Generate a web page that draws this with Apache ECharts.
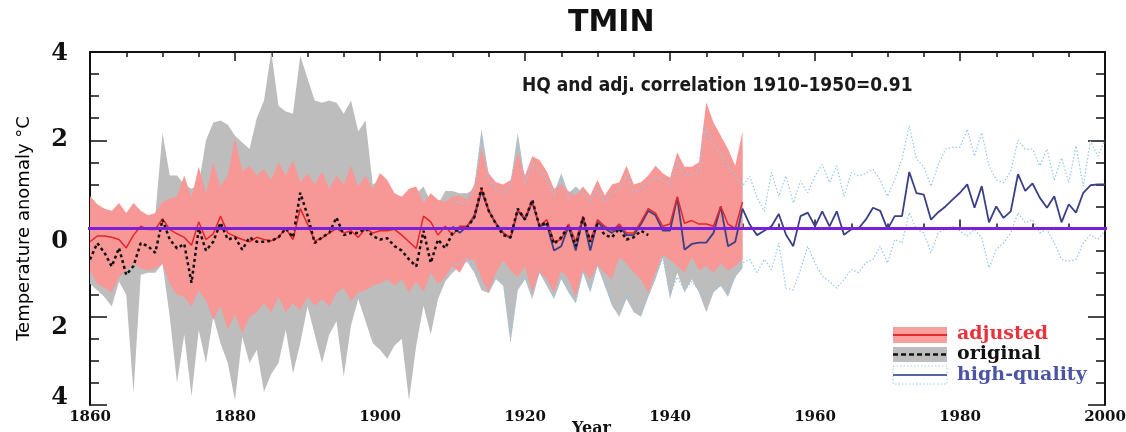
<!DOCTYPE html>
<html><head><meta charset="utf-8">
<script src="https://cdn.jsdelivr.net/npm/echarts@6/dist/echarts.min.js"></script>
<style>html,body{margin:0;padding:0;background:#fff}#c{width:1126px;height:432px}</style>
</head><body><div id="c"></div>
<script>
// ---------------- DATA ----------------
const FIRST_YEAR = 1860, LAST_YEAR = 2000;
const ADJ_START = 1860;   // adjusted & original bands 1860-1950
const ORIG_START = 1860;  // original mean 1860-1937
const HQ_START = 1910;    // high-quality 1910-2000

const xTickLabels = ['1860','1880','1900','1920','1940','1960','1980','2000'];
const yTickLabels = ['4','2','0','2','4'];

// adjusted mean (red line)
const adjMean = [
 -0.30,-0.17,-0.17,-0.20,-0.25,-0.44,-0.15, 0.05,-0.02,-0.02,
  0.22,-0.02,-0.12,-0.20,-0.38, 0.15,-0.25,-0.12, 0.28,-0.10,
 -0.18,-0.25,-0.30,-0.20,-0.25,-0.28,-0.20, 0.00,-0.25, 0.45,
  0.10,-0.28,-0.22,-0.10, 0.00,-0.10,-0.05,-0.20, 0.00,-0.10,
 -0.05,-0.05,-0.02,-0.15,-0.30,-0.45, 0.28, 0.15,-0.15, 0.05,
 -0.15, 0.05, 0.05, 0.30, 0.90, 0.40, 0.10,-0.10,-0.20, 0.42,
  0.25, 0.62, 0.05, 0.20,-0.30,-0.25, 0.10,-0.30, 0.28,-0.30,
  0.20, 0.05,-0.05, 0.10,-0.10,-0.10, 0.15, 0.45, 0.35, 0.05,
  0.10, 0.72, 0.12, 0.18, 0.10, 0.10, 0.05, 0.50, 0.10, 0.00,
  0.60];
// adjusted band low / high (red area)
const adjLow = [
 -0.95,-1.25,-1.35,-1.45,-1.10,-0.95,-0.80,-0.90,-0.95,-0.90,
 -0.80,-1.25,-1.50,-1.55,-1.77,-1.40,-1.65,-2.07,-1.75,-2.30,
 -1.95,-2.37,-2.00,-1.90,-1.70,-1.90,-1.55,-1.90,-1.70,-1.85,
 -1.55,-1.75,-1.60,-1.77,-1.45,-1.35,-1.65,-1.45,-1.40,-1.30,
 -1.25,-1.15,-1.30,-1.15,-1.45,-1.20,-1.45,-1.00,-1.25,-1.10,
 -0.85,-1.00,-0.70,-0.72,-1.15,-1.46,-1.00,-0.72,-0.95,-1.10,
 -0.85,-1.46,-1.00,-1.15,-1.45,-0.95,-1.15,-1.55,-0.95,-1.15,
 -0.85,-1.00,-1.15,-0.65,-0.80,-1.00,-1.15,-1.46,-1.00,-0.60,
 -0.70,-0.85,-1.00,-0.65,-0.95,-0.85,-1.00,-0.80,-0.95,-0.85,
 -0.70];
const adjHigh = [
  0.73, 0.55, 0.45, 0.40, 0.58, 0.35, 0.58, 0.40, 0.30, 0.35,
  0.60, 0.68, 0.72, 1.20, 0.70, 1.40, 0.80, 1.50, 0.95, 1.20,
  2.05, 1.30, 1.42, 1.20, 1.35, 1.10, 1.50, 1.20, 1.55, 1.05,
  1.25, 1.00, 1.30, 0.90, 1.20, 1.00, 1.42, 0.95, 1.20, 0.90,
  1.26, 1.10, 0.80, 0.72, 0.90, 0.95, 0.58, 0.80, 0.65, 0.60,
  0.72, 0.75, 0.65, 1.00, 1.80, 1.25, 1.05, 1.00, 1.10, 1.72,
  1.20, 1.64, 1.55, 1.30, 0.90, 1.00, 0.85, 0.75, 0.95, 0.75,
  1.10, 0.75, 1.00, 1.05, 1.42, 1.00, 1.05, 1.20, 1.42, 1.25,
  1.15, 1.72, 1.40, 1.40, 1.50, 2.86, 2.40, 2.10, 1.80, 1.42,
  2.20];
// original mean (black dashed), 1860-1937
const origMean = [
 -0.70,-0.33,-0.55,-0.86,-0.44,-1.05,-0.85,-0.33,-0.40,-0.55,
  0.20,-0.25,-0.45,-0.35,-1.23, 0.00,-0.50,-0.30, 0.13,-0.25,
 -0.20,-0.48,-0.20,-0.30,-0.30,-0.28,-0.20, 0.00,-0.20, 0.81,
  0.30,-0.33,-0.20,-0.10, 0.25,-0.15,-0.10,-0.10, 0.00,-0.17,
 -0.25,-0.22,-0.40,-0.50,-0.70,-0.86,-0.05,-0.78,-0.25,-0.45,
 -0.10, 0.00, 0.02, 0.25, 0.92, 0.40, 0.10,-0.15,-0.20, 0.45,
  0.20, 0.65, 0.05, 0.15,-0.35,-0.20, 0.05,-0.40, 0.25,-0.30,
  0.10,-0.15,-0.20, 0.00,-0.25,-0.20,-0.05,-0.15];
// original band low / high (grey area)
const origLow = [
 -1.25,-1.40,-1.55,-1.77,-1.20,-1.50,-3.73,-1.05,-1.00,-1.00,
 -0.80,-2.00,-3.50,-2.40,-3.80,-2.30,-3.05,-2.00,-2.60,-3.05,
 -3.90,-2.45,-3.05,-2.75,-3.70,-3.30,-3.05,-2.30,-3.28,-2.60,
 -1.77,-2.40,-3.05,-2.40,-2.10,-3.36,-2.20,-1.60,-2.10,-2.60,
 -2.75,-2.95,-2.65,-2.50,-3.90,-2.65,-1.75,-2.40,-1.60,-1.20,
 -1.00,-0.85,-0.75,-1.00,-1.40,-1.46,-1.15,-1.30,-2.60,-1.40,
 -1.15,-1.60,-1.00,-1.30,-1.60,-1.15,-1.45,-1.70,-1.00,-1.45,
 -0.85,-1.30,-1.75,-2.00,-1.60,-1.90,-2.00,-1.55,-1.15,-0.65,
 -1.60,-1.00,-1.45,-1.15,-1.45,-1.90,-1.45,-1.30,-1.55,-1.10,
 -0.90];
const origHigh = [
  0.50, 0.40, 0.30, 0.30, 0.40, 0.30, 0.40, 0.30, 0.25, 0.30,
  2.17, 1.20, 1.20, 1.00, 0.90, 1.00, 2.00, 2.40, 2.45, 2.35,
  2.10, 1.95, 1.80, 2.50, 2.90, 4.00, 2.78, 2.65, 2.60, 3.92,
  3.40, 2.90, 2.85, 2.90, 2.85, 2.60, 2.90, 2.20, 2.45, 1.00,
  1.10, 1.00, 0.70, 0.60, 0.80, 0.80, 0.95, 0.60, 0.55, 0.85,
  0.85, 0.80, 0.80, 0.90, 2.25, 1.20, 1.00, 0.75, 1.00, 2.17,
  1.10, 1.40, 1.30, 1.10, 0.80, 1.25, 0.80, 0.95, 0.80, 0.60,
  0.90, 0.60, 0.80, 0.90, 1.20, 0.80, 0.90, 1.00, 1.20, 1.10,
  1.05, 1.50, 1.20, 1.20, 1.30, 2.40, 2.10, 1.80, 1.50, 1.20,
  1.90];
// high-quality mean (blue line), 1910-2000
const hqMean = [
  0.05,-0.10, 0.05, 0.25, 0.85, 0.40, 0.12,-0.10,-0.22, 0.40,
  0.20, 0.60, 0.05, 0.10,-0.50,-0.40, 0.05,-0.50, 0.25,-0.50,
  0.15, 0.00,-0.10, 0.05,-0.15,-0.15, 0.10, 0.40, 0.30,-0.05,
 -0.05, 0.70,-0.48,-0.35,-0.32,-0.32,-0.10, 0.50,-0.40,-0.30,
  0.45, 0.09,-0.15,-0.05, 0.05, 0.33,-0.14,-0.40, 0.28, 0.36,
  0.05, 0.39, 0.05, 0.39,-0.14,-0.02, 0.00, 0.20, 0.47, 0.40,
 -0.02, 0.28, 0.28, 1.28, 0.80, 0.77, 0.20, 0.37, 0.50, 0.66,
  0.81, 1.00, 0.47, 0.96, 0.14, 0.50, 0.24, 0.39, 1.23, 0.85,
  1.02, 0.70, 0.47, 0.73, 0.14, 0.55, 0.36, 0.81, 0.98, 1.00,
  1.00];
// high-quality band low / high (dotted light blue), 1910-2000
const hqLow = [
 -0.80,-0.80,-0.65,-0.90,-1.20,-1.40,-1.10,-1.20,-2.40,-1.30,
 -1.10,-1.50,-0.95,-1.25,-1.55,-1.10,-1.40,-1.65,-0.95,-1.40,
 -0.80,-1.25,-1.70,-1.90,-1.50,-1.80,-1.90,-1.50,-1.10,-0.65,
 -1.50,-1.10,-1.40,-1.20,-1.40,-1.60,-1.40,-1.30,-1.40,-1.10,
 -0.78,-0.70,-1.00,-0.70,-0.93,-0.33,-1.35,-1.39,-0.93,-0.40,
 -0.78,-1.08,-1.20,-1.35,-1.16,-0.93,-1.00,-0.78,-0.70,-0.40,
 -0.78,-0.25,-0.33, 0.36,-0.02,-0.10,-0.55,-0.10, 0.00, 0.05,
 -0.06,-0.17,-0.02,-0.21,-0.89,-0.48,-0.33,-0.10, 0.36, 0.13,
  0.20,-0.10,-0.02,-0.33,-0.70,-0.74,-0.70,-0.33,-0.14,-0.25,
 -0.05];
const hqHigh = [
  0.60, 0.60, 0.55, 0.90, 2.10, 1.10, 0.90, 0.80, 1.00, 2.00,
  1.00, 1.50, 1.30, 1.10, 0.75, 1.20, 0.70, 0.90, 0.80, 0.60,
  0.90, 0.60, 0.80, 0.90, 1.20, 0.80, 0.90, 1.00, 1.20, 1.10,
  1.00, 1.50, 1.20, 1.20, 1.30, 2.30, 1.90, 1.70, 1.40, 1.20,
  0.96, 1.19, 0.70, 0.39, 1.27, 0.73, 1.19, 0.58, 1.08, 0.81,
  1.20, 1.45, 1.04, 1.42, 0.73, 1.27, 1.19, 1.25, 1.34, 1.10,
  0.73, 1.11, 1.57, 2.33, 1.57, 1.40, 0.96, 1.45, 1.80, 1.84,
  1.84, 2.25, 1.64, 2.17, 1.42, 1.10, 1.04, 1.30, 2.00, 1.80,
  1.80, 1.42, 1.80, 1.10, 1.60, 1.04, 1.87, 0.96, 1.98, 1.64,
  2.00];
const zeroLine = 0;

// ---------------- BUILD ----------------
const years = [];
for (let y = FIRST_YEAR; y <= LAST_YEAR; y++) years.push(String(y));
function pad(arr, start) {
  return years.map((_, i) => {
    const k = FIRST_YEAR + i - start;
    return (k >= 0 && k < arr.length) ? arr[k] : null;
  });
}
function span(high, low) { return high.map((h, i) => +(h - low[i]).toFixed(3)); }

const serifBold = { fontFamily: '"DejaVu Serif", serif', fontWeight: 'bold', color: '#111' };
const hidden = { opacity: 0 };

function bandBase(id, low, start) {
  return { name: id + 'Base', type: 'line', stack: id, stackStrategy: 'all', data: pad(low, start),
    symbol: 'none', lineStyle: hidden, silent: true, z: 2 };
}
function bandFill(id, high, low, start, color) {
  return { name: id, type: 'line', stack: id, stackStrategy: 'all', data: pad(span(high, low), start),
    symbol: 'none', lineStyle: hidden, areaStyle: { color: color, opacity: 1 }, silent: true, z: 2 };
}
function plainLine(name, arr, start, ls) {
  return { name: name, type: 'line', data: pad(arr, start), symbol: 'none', lineStyle: ls, silent: true, z: 3 };
}

function yLabel(v) {
  const s = yTickLabels[(4 - v) / 2];
  if (v === 0) return '{z|' + s + '}';
  if (v === -2) return '{m|' + s + '}';
  if (v === -4) return '{b|' + s + '}';
  if (v === 4) return '{t|' + s + '}';
  return '{n|' + s + '}';
}
const yFont = { fontFamily: '"DejaVu Serif", serif', fontWeight: 'bold', fontSize: 24, color: '#111' };

const tickAxisCommon = {
  min: FIRST_YEAR, max: LAST_YEAR, interval: 20, type: 'value',
  axisLine: { show: true, lineStyle: { color: '#111', width: 2 } },
  axisTick: { show: true, inside: true, length: 9, lineStyle: { color: '#111', width: 1.5 } },
  minorTick: { show: true, splitNumber: 4, length: 5, lineStyle: { color: '#111', width: 1.5 } },
  splitLine: { show: false }, minorSplitLine: { show: false }
};
const yCommon = {
  type: 'value', min: -4, max: 4, interval: 2,
  axisLine: { show: true, lineStyle: { color: '#111', width: 2 } },
  axisTick: { show: true, inside: true, length: 17, lineStyle: { color: '#111', width: 1.5 } },
  minorTick: { show: true, splitNumber: 4, length: 9, lineStyle: { color: '#111', width: 1.5 } },
  splitLine: { show: false }, minorSplitLine: { show: false }
};

const option = {
  animation: false,
  backgroundColor: '#fff',
  title: [
    { text: 'TMIN', left: 568, top: 8, padding: 0,
      textStyle: { fontFamily: '"DejaVu Sans", sans-serif', fontWeight: 'bold', fontSize: 30, color: '#111' } },
    { text: 'HQ and adj. correlation 1910–1950=0.91', left: 522, top: 77, padding: 0,
      textStyle: { fontFamily: '"Liberation Sans Narrow", "DejaVu Sans Condensed", sans-serif', fontWeight: 'bold', fontSize: 19, color: '#1a1a1a' } }
  ],
  grid: { left: 90, right: 21, top: 52, bottom: 27, containLabel: false, outerBoundsMode: 'none' },
  xAxis: [
    { type: 'category', data: years, boundaryGap: false, show: false },
    Object.assign({}, tickAxisCommon, { position: 'bottom',
      axisLabel: Object.assign({ fontSize: 15, margin: 5, formatter: v => xTickLabels[(v - FIRST_YEAR) / 20] }, serifBold),
      name: 'Year', nameLocation: 'middle', nameGap: 16, nameMoveOverlap: false,
      nameTextStyle: Object.assign({ fontSize: 16, padding: [0, 12, 0, 0] }, serifBold) }),
    Object.assign({}, tickAxisCommon, { position: 'top', axisLabel: { show: false } })
  ],
  yAxis: [
    Object.assign({}, yCommon, { position: 'left',
      axisLabel: Object.assign({ margin: 22, formatter: yLabel, rich: {
        n: yFont,
        z: Object.assign({ padding: [26, 0, 0, 0] }, yFont),
        m: Object.assign({ padding: [22, 0, 0, 0] }, yFont),
        b: Object.assign({ padding: [0, 0, 14, 0] }, yFont),
        t: Object.assign({ padding: [4, 0, 0, 0] }, yFont)
      } }, yFont),
      name: 'Temperature anomaly °C', nameLocation: 'middle', nameGap: 57, nameMoveOverlap: false,
      nameTextStyle: { fontFamily: '"DejaVu Sans", sans-serif', fontSize: 18, color: '#000' } }),
    Object.assign({}, yCommon, { position: 'right', axisLabel: { show: false } })
  ],
  series: [
    bandBase('original band', origLow, ADJ_START),
    bandFill('original band', origHigh, origLow, ADJ_START, '#bdbdbd'),
    plainLine('hq high', hqHigh, HQ_START, { color: '#94c6e8', width: 1.2, type: [1.5, 2] }),
    plainLine('hq low', hqLow, HQ_START, { color: '#94c6e8', width: 1.2, type: [1.5, 2] }),
    bandBase('adjusted band', adjLow, ADJ_START),
    bandFill('adjusted band', adjHigh, adjLow, ADJ_START, '#f89896'),
    plainLine('high-quality', hqMean, HQ_START, { color: '#3a3f86', width: 1.8 }),
    plainLine('adjusted', adjMean, ADJ_START, { color: '#e3262b', width: 1.5 }),
    plainLine('original', origMean, ORIG_START, { color: '#111', width: 2.5, type: [3, 3] }),
    { name: 'zero', type: 'line', xAxisIndex: 1, clip: false, symbol: 'none', silent: true, z: 5,
      data: [[FIRST_YEAR - 2.4, zeroLine], [LAST_YEAR + 1.5, zeroLine]],
      lineStyle: { color: '#7a1fdc', width: 3 } }
  ],
  graphic: [
    { type: 'rect', shape: { x: 893, y: 327, width: 54, height: 16 }, style: { fill: '#f8a09e' }, z: 10 },
    { type: 'line', shape: { x1: 893, y1: 335, x2: 947, y2: 335 }, style: { stroke: '#e8262c', lineWidth: 2 }, z: 11 },
    { type: 'text', x: 957, y: 334, z: 11, style: { text: 'adjusted', fill: '#e8323c', font: 'bold 19px "DejaVu Serif"', verticalAlign: 'middle' } },
    { type: 'rect', shape: { x: 893, y: 347, width: 54, height: 15 }, style: { fill: '#bdbdbd' }, z: 10 },
    { type: 'line', shape: { x1: 893, y1: 354.5, x2: 947, y2: 354.5 }, style: { stroke: '#111', lineWidth: 2.5, lineDash: [5, 3] }, z: 11 },
    { type: 'text', x: 957, y: 354, z: 11, style: { text: 'original', fill: '#111', font: 'bold 19px "DejaVu Serif"', verticalAlign: 'middle' } },
    { type: 'rect', shape: { x: 893, y: 366, width: 54, height: 18 }, style: { fill: 'none', stroke: '#9ccbea', lineWidth: 1, lineDash: [1.5, 2] }, z: 10 },
    { type: 'line', shape: { x1: 893, y1: 375, x2: 947, y2: 375 }, style: { stroke: '#5563a8', lineWidth: 2 }, z: 11 },
    { type: 'text', x: 957, y: 375, z: 11, style: { text: 'high-quality', fill: '#4b55a3', font: 'bold 19px "DejaVu Serif"', verticalAlign: 'middle' } }
  ]
};
const chart = echarts.init(document.getElementById('c'), null, { renderer: 'canvas' });
chart.setOption(option);
</script></body></html>
